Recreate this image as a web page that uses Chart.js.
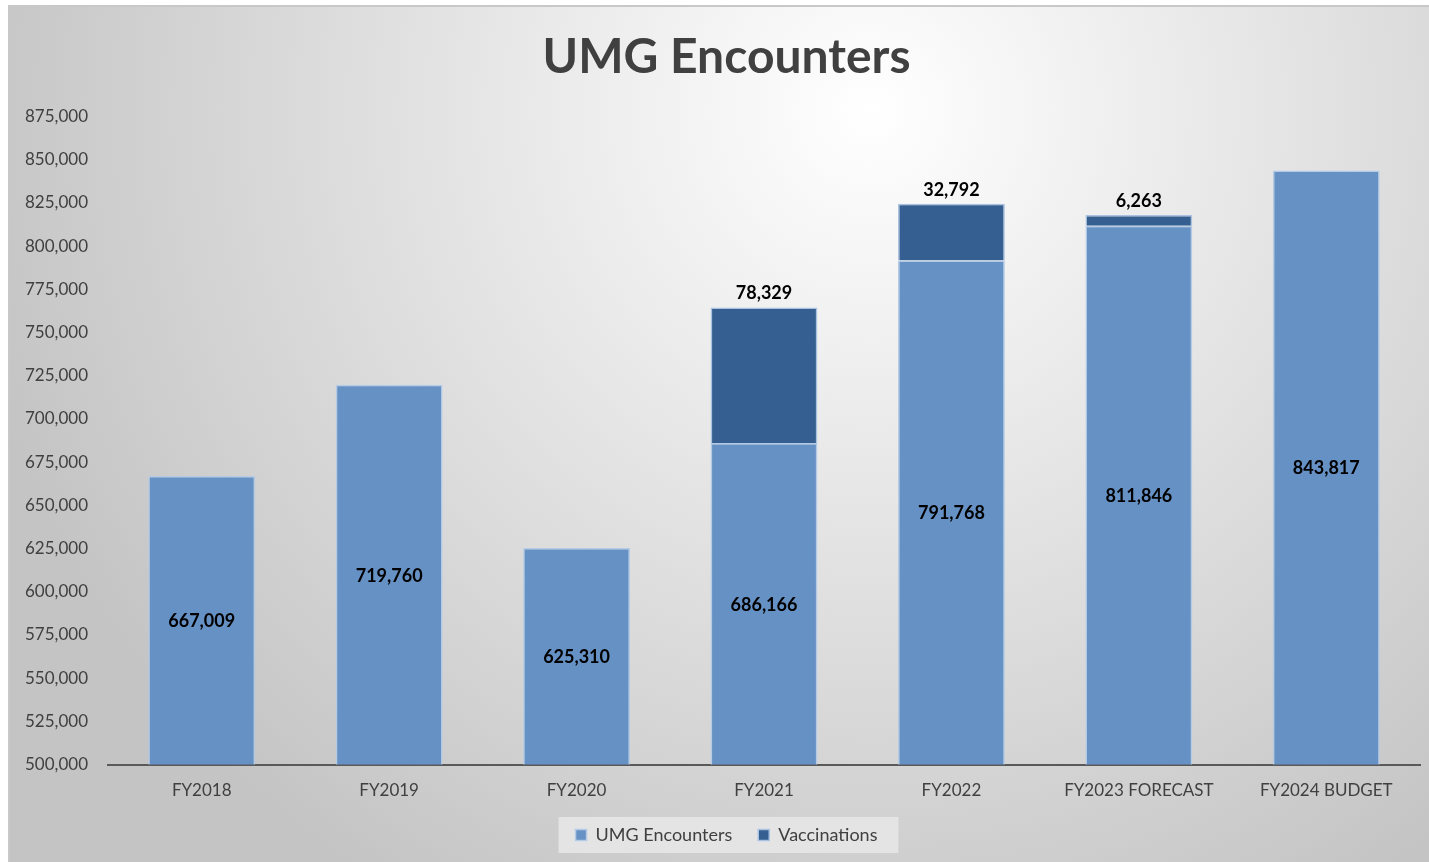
<!DOCTYPE html>
<html lang="en">
<head>
    <meta charset="UTF-8">
    <title>UMG Encounters</title>
    <script src="https://cdn.jsdelivr.net/npm/chart.js"></script>
    <style>
        html, body { margin: 0; padding: 0; background: #ffffff; }
        #wrap { width: 1429px; height: 862px; }
    </style>
</head>
<body>
<div id="wrap"><canvas id="encChart" width="1429" height="862"></canvas></div>

<script>
    const years = ['FY2018', 'FY2019', 'FY2020', 'FY2021', 'FY2022', 'FY2023 FORECAST', 'FY2024 BUDGET'];
    const encounters = [667009, 719760, 625310, 686166, 791768, 811846, 843817];
    const vaccinations = [null, null, null, 78329, 32792, 6263, null];

    const fontFamily = 'Lato, "Open Sans", sans-serif';
    const textGrey = '#404040';
    const shift = 12;

    // title and legend sit a bit right of the canvas centre in the original
    const centreShift = {
        id: 'centreShift',
        afterLayout(chart) {
            [chart.titleBlock, chart.legend].forEach(box => {
                if (!box) return;
                box.left += shift;
                box.right += shift;
            });
        }
    };

    // grey/white backdrop with a thin frame, plus a panel behind the legend
    const backdrop = {
        id: 'backdrop',
        beforeDraw(chart) {
            const ctx = chart.ctx;
            ctx.save();
            const g = ctx.createRadialGradient(870, 110, 0, 870, 110, 920);
            g.addColorStop(0, '#ffffff');
            g.addColorStop(1, '#c4c4c4');
            ctx.fillStyle = g;
            ctx.fillRect(9, 6, 1420, 856);
            ctx.strokeStyle = '#c8c8c8';
            ctx.lineWidth = 2;
            ctx.beginPath();
            ctx.moveTo(9, 862);
            ctx.lineTo(9, 6);
            ctx.lineTo(1429, 6);
            ctx.stroke();

            const boxes = chart.legend.legendHitBoxes;
            if (boxes && boxes.length) {
                const l = Math.min(...boxes.map(b => b.left)) + shift;
                const r = Math.max(...boxes.map(b => b.left + b.width)) + shift;
                const t = Math.min(...boxes.map(b => b.top));
                const h = Math.max(...boxes.map(b => b.height));
                ctx.fillStyle = 'rgba(232,232,232,0.85)';
                ctx.fillRect(l - 29, t - 9, r - l + 38, h + 18);
            }
            ctx.restore();
        }
    };

    // value labels: encounters in the middle of the bar, vaccinations above it
    const valueLabels = {
        id: 'valueLabels',
        afterDatasetsDraw(chart) {
            const ctx = chart.ctx;
            const yScale = chart.scales.y;
            const bottom = yScale.getPixelForValue(yScale.min);
            ctx.save();
            ctx.font = 'bold 18px ' + fontFamily;
            ctx.fillStyle = '#000000';
            ctx.textAlign = 'center';
            ctx.textBaseline = 'middle';
            chart.getDatasetMeta(0).data.forEach((bar, i) => {
                const top = yScale.getPixelForValue(encounters[i]);
                ctx.fillText(encounters[i].toLocaleString('en-US'), bar.x, (top + bottom) / 2 + 1);
            });
            chart.getDatasetMeta(1).data.forEach((bar, i) => {
                if (vaccinations[i] == null) return;
                const top = yScale.getPixelForValue(encounters[i] + vaccinations[i]);
                ctx.fillText(vaccinations[i].toLocaleString('en-US'), bar.x, top - 14);
            });
            ctx.restore();
        }
    };

    new Chart(document.getElementById('encChart'), {
        type: 'bar',
        data: {
            labels: years,
            datasets: [
                {
                    label: 'UMG Encounters',
                    data: encounters,
                    backgroundColor: '#6691c5',
                    borderColor: '#b4cbe8',
                    borderWidth: 1.5
                },
                {
                    label: 'Vaccinations',
                    data: vaccinations,
                    backgroundColor: '#355f90',
                    borderColor: '#a9c2e2',
                    borderWidth: 1.5
                }
            ]
        },
        options: {
            responsive: false,
            animation: false,
            layout: { padding: { left: 9, right: 9, top: 10, bottom: 8 } },
            datasets: { bar: { categoryPercentage: 1, barPercentage: 0.57 } },
            plugins: {
                title: {
                    display: true,
                    text: 'UMG Encounters',
                    color: textGrey,
                    font: { family: fontFamily, size: 48, weight: 'bold' },
                    padding: { top: 19, bottom: 30 }
                },
                legend: {
                    position: 'bottom',
                    labels: {
                        color: textGrey,
                        boxWidth: 11,
                        boxHeight: 11,
                        padding: 26,
                        font: { family: fontFamily, size: 18 }
                    }
                },
                tooltip: { enabled: false }
            },
            scales: {
                x: {
                    stacked: true,
                    grid: { display: false },
                    border: { display: true, color: '#595959', width: 2 },
                    afterFit(scale) { scale.height -= 9; },
                    ticks: { color: textGrey, padding: 8, font: { family: fontFamily, size: 17 } }
                },
                y: {
                    stacked: true,
                    min: 500000,
                    max: 875000,
                    grid: { display: false, drawTicks: false },
                    border: { display: false },
                    afterFit(scale) { scale.width = 99; },
                    ticks: {
                        stepSize: 25000,
                        color: textGrey,
                        padding: 20,
                        font: { family: fontFamily, size: 17 },
                        callback: v => v.toLocaleString('en-US')
                    }
                }
            }
        },
        plugins: [centreShift, backdrop, valueLabels]
    });
</script>
</body>
</html>
